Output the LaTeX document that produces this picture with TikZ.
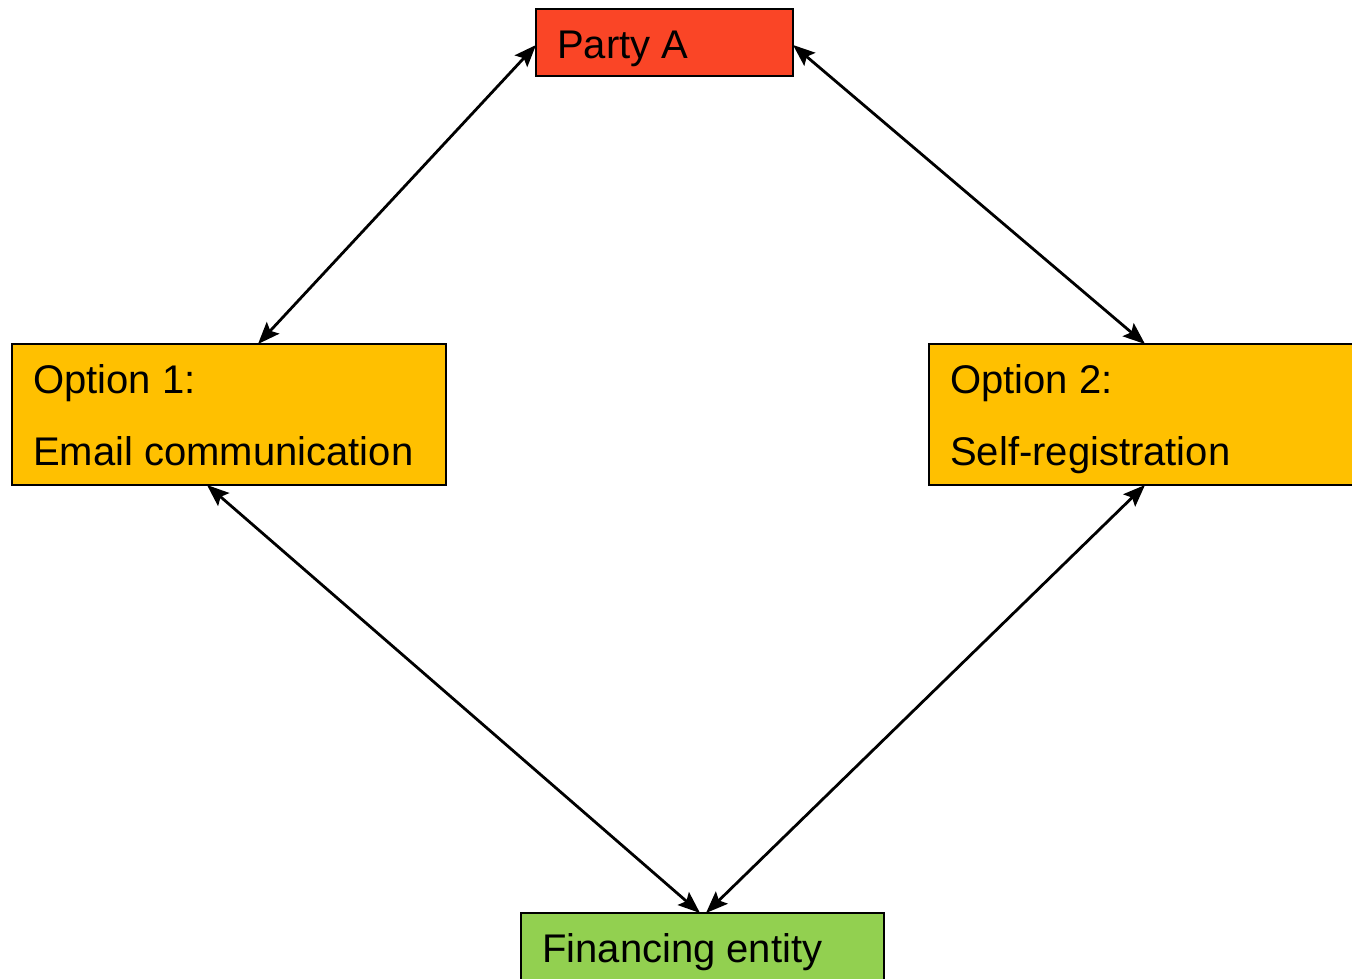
\documentclass[tikz,border=0pt]{standalone}
\usepackage{fontspec}
\setmainfont{Liberation Sans}
\usetikzlibrary{arrows.meta,calc}
\definecolor{partyred}{HTML}{FA4526}
\definecolor{optyellow}{HTML}{FFC000}
\definecolor{fingreen}{HTML}{92D050}
\tikzset{
  box/.style={draw=black, line width=2.6pt, inner sep=0pt},
  lbl/.style={anchor=base west, inner sep=0pt, font=\fontsize{40}{40}\selectfont},
  link/.style={line width=2.8pt, {Stealth[length=22pt,width=17pt,inset=4pt]}-{Stealth[length=22pt,width=17pt,inset=4pt]}}
}
\begin{document}
\begin{tikzpicture}[x=1pt,y=-1pt]
\useasboundingbox (0,0) rectangle (1352,978);
% boxes
\draw[box, fill=partyred] (536,9) rectangle (793,76);
\draw[box, fill=optyellow] (12,344) rectangle (446,485);
\draw[box, fill=optyellow] (929,344) rectangle (1358,485);
\draw[box, fill=fingreen] (521,913) rectangle (884,990);
% anchor coordinates
\coordinate (paL) at (536,45);
\coordinate (paR) at (793,45);
\coordinate (o1T) at (258,344);
\coordinate (o1B) at (207,485);
\coordinate (o2T) at (1145,344);
\coordinate (o2B) at (1145,485);
\coordinate (feL) at (700,913);
\coordinate (feR) at (706,913);
% labels
\node[lbl] (tpa) at (557,58) {Party A};
\node[lbl] (to1a) at (33,393) {Option 1:};
\node[lbl] (to1b) at (33,465) {Email communication};
\node[lbl] (to2a) at (950,393) {Option 2:};
\node[lbl] (to2b) at (950,465) {Self-registration};
\node[lbl] (tfe) at (542,962) {Financing entity};
% connectors
\draw[link] (paL) -- (o1T);
\draw[link] (paR) -- (o2T);
\draw[link] (o1B) -- (feL);
\draw[link] (o2B) -- (feR);
\end{tikzpicture}
\end{document}
